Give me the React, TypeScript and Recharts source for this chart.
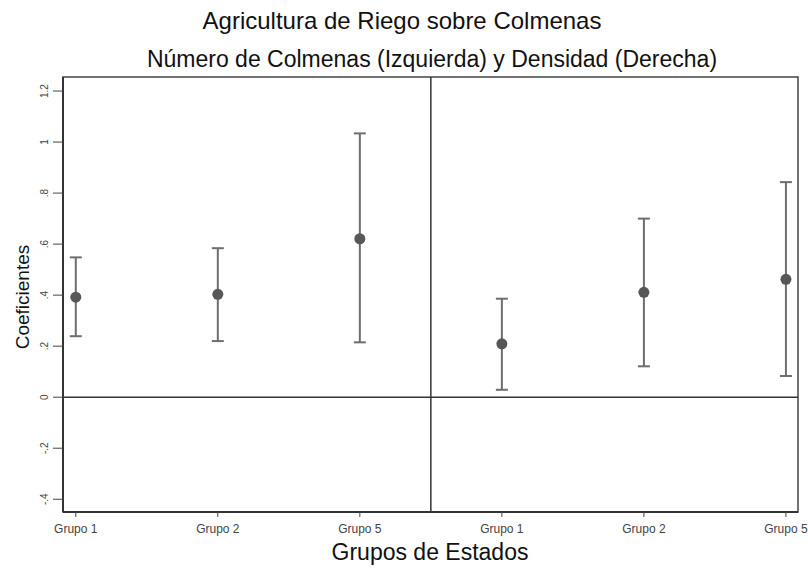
import { ScatterChart, Scatter, XAxis, YAxis, ErrorBar, ReferenceLine, ReferenceArea } from "recharts";

// Left panel: Número de Colmenas, right panel: Densidad
const groups = ["Grupo 1", "Grupo 2", "Grupo 5"];
const colmenasCoef = [0.392, 0.403, 0.621];
const colmenasLower = [0.239, 0.22, 0.215];
const colmenasUpper = [0.548, 0.584, 1.034];
const densidadCoef = [0.209, 0.411, 0.462];
const densidadLower = [0.029, 0.121, 0.083];
const densidadUpper = [0.386, 0.7, 0.843];
const yTicks = [-0.4, -0.2, 0, 0.2, 0.4, 0.6, 0.8, 1, 1.2];

const X_DOMAIN: [number, number] = [0.91, 6.085];
const Y_DOMAIN: [number, number] = [-0.45, 1.255];

const tickLabels = [...groups, ...groups];

const data = [
  ...groups.map((g, i) => ({
    x: i + 1,
    y: colmenasCoef[i],
    err: [colmenasCoef[i] - colmenasLower[i], colmenasUpper[i] - colmenasCoef[i]],
  })),
  ...groups.map((g, i) => ({
    x: i + 4,
    y: densidadCoef[i],
    err: [densidadCoef[i] - densidadLower[i], densidadUpper[i] - densidadCoef[i]],
  })),
];

const FONT = "'Liberation Sans', Arial, sans-serif";

// Stata-style number labels: .8 instead of 0.8
const fmtY = (v: number) => {
  if (v === 0) return "0";
  const s = String(v);
  return s.replace(/^0\./, ".").replace(/^-0\./, "-.");
};

const YTick = (props: any) => {
  const { x, y, payload } = props;
  return (
    <text
      x={0}
      y={0}
      transform={`translate(${x - 3},${y}) rotate(-90)`}
      textAnchor="middle"
      fontSize={10}
      fill="#444"
      fontFamily={FONT}
    >
      {fmtY(payload.value)}
    </text>
  );
};

const XTick = (props: any) => {
  const { x, y, payload } = props;
  return (
    <text x={x} y={y + 14} textAnchor="middle" fontSize={12} fill="#444" fontFamily={FONT}>
      {tickLabels[payload.value - 1]}
    </text>
  );
};

const Dot = (props: any) => {
  const { cx, cy } = props;
  return <circle cx={cx} cy={cy} r={5.5} fill="#575757" />;
};

export default function App() {
  return (
    <div style={{ position: "absolute", left: 0, top: 0, width: 808, height: 568, background: "#fff" }}>
      <ScatterChart width={808} height={568} margin={{ top: 77, right: 10, bottom: 0, left: 0 }}>
        <XAxis
          type="number"
          dataKey="x"
          domain={X_DOMAIN}
          ticks={[1, 2, 3, 4, 5, 6]}
          tick={<XTick />}
          tickSize={5}
          tickLine={{ stroke: "#444" }}
          axisLine={{ stroke: "#333", strokeWidth: 2 }}
          height={56}
          allowDataOverflow
        />
        <YAxis
          type="number"
          dataKey="y"
          domain={Y_DOMAIN}
          ticks={yTicks}
          tick={<YTick />}
          tickSize={10}
          tickLine={{ stroke: "#444" }}
          axisLine={{ stroke: "#333", strokeWidth: 2 }}
          width={63}
          allowDataOverflow
        />
        <ReferenceArea
          x1={X_DOMAIN[0]}
          x2={X_DOMAIN[1]}
          y1={Y_DOMAIN[0]}
          y2={Y_DOMAIN[1]}
          fill="none"
          stroke="#444"
          strokeWidth={1.5}
          ifOverflow="visible"
        />
        <ReferenceLine y={0} stroke="#333" strokeWidth={1.5} />
        <ReferenceLine x={3.5} stroke="#333" strokeWidth={1.5} />
        <Scatter data={data} shape={<Dot />} isAnimationActive={false}>
          <ErrorBar dataKey="err" direction="y" width={6} stroke="#6e6e6e" strokeWidth={2} isAnimationActive={false} />
        </Scatter>
      </ScatterChart>
      <svg width={808} height={568} style={{ position: "absolute", left: 0, top: 0, pointerEvents: "none" }} fontFamily={FONT} fill="#111">
        <text x={402} y={29} textAnchor="middle" fontSize={24}>
          Agricultura de Riego sobre Colmenas
        </text>
        <text x={432} y={67} textAnchor="middle" fontSize={23}>
          Número de Colmenas (Izquierda) y Densidad (Derecha)
        </text>
        <text x={430} y={560} textAnchor="middle" fontSize={23}>
          Grupos de Estados
        </text>
        <text x={0} y={0} transform="translate(29,297) rotate(-90)" textAnchor="middle" fontSize={19}>
          Coeficientes
        </text>
      </svg>
    </div>
  );
}
